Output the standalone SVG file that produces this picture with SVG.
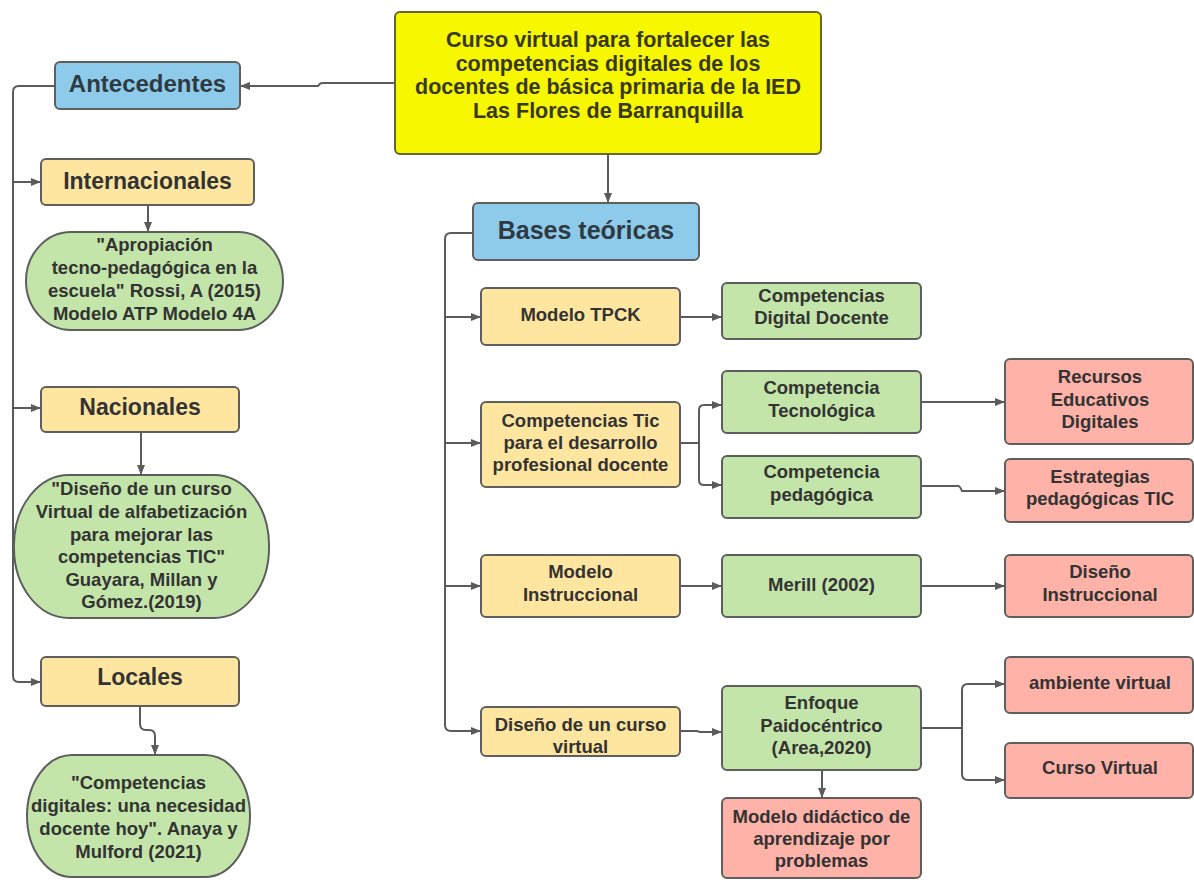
<svg xmlns="http://www.w3.org/2000/svg" width="1194" height="880" viewBox="0 0 1194 880">
  <defs>
    <marker id="arrow" viewBox="0 0 10 8" refX="10" refY="4" markerWidth="10" markerHeight="8" markerUnits="userSpaceOnUse" orient="auto">
      <path d="M0,0 L10,4 L0,8 z" fill="#5b5b5b"/>
    </marker>
    <style>
      text { font-family: "Liberation Sans", Arial, sans-serif; font-weight: bold; fill: #333333; text-anchor: middle; }
      .title { font-size: 21.5px; fill: #38381c; }
      .head { font-size: 24px; fill: #2f3a42; }
      .sub { font-size: 23px; }
      .lbl { font-size: 18.5px; }
      .box { stroke: #5e5e5e; stroke-width: 2; }
      .root { fill: #f7f700; stroke: #66662a; stroke-width: 2; }
      .blue { fill: #8ecbea; }
      .yellow { fill: #ffe6a0; }
      .green { fill: #c4e5aa; }
      .pink { fill: #ffb2a8; }
      .link { fill: none; stroke: #5b5b5b; stroke-width: 2; }
      .arr { marker-end: url(#arrow); }
    </style>
  </defs>

  <rect width="1194" height="880" fill="#ffffff"/>

  <!-- connectors -->
  <g id="connectors">
    <path class="link arr" d="M395,83 H322 Q320,83 318,86 H240"/>
    <path class="link arr" d="M608,154 V203"/>
    <!-- antecedentes spine -->
    <path class="link arr" d="M55,86 H19 Q13,86 13,92 V676 Q13,682 19,682 H41"/>
    <path class="link arr" d="M13,182 H41"/>
    <path class="link arr" d="M13,408 H41"/>
    <path class="link arr" d="M148,205 V232"/>
    <path class="link arr" d="M141,432 V475"/>
    <path class="link arr" d="M140,706 V724 Q140,730 146,730 H149 Q155,730 155,736 V755"/>
    <!-- bases teóricas spine -->
    <path class="link arr" d="M473,233 H451 Q445,233 445,239 V725 Q445,731 451,731 H481"/>
    <path class="link arr" d="M445,317 H481"/>
    <path class="link arr" d="M445,443 H481"/>
    <path class="link arr" d="M445,586 H481"/>
    <path class="link arr" d="M680,317 H722"/>
    <!-- split to the two competences -->
    <path class="link" d="M680,443 H699"/>
    <path class="link arr" d="M699,443 V410 Q699,405 704,405 H722"/>
    <path class="link arr" d="M699,443 V480 Q699,485 704,485 H722"/>
    <path class="link arr" d="M921,402 H1005"/>
    <path class="link arr" d="M921,486 H958 Q960,486 962,491 H1005"/>
    <path class="link arr" d="M680,586 H722"/>
    <path class="link arr" d="M921,586 H1005"/>
    <path class="link arr" d="M680,731 H697 L700,732 H722"/>
    <path class="link arr" d="M822,770 V798"/>
    <!-- split to the two outputs -->
    <path class="link" d="M921,728 H962"/>
    <path class="link arr" d="M962,728 V690 Q962,684 968,684 H1005"/>
    <path class="link arr" d="M962,728 V774 Q962,780 968,780 H1005"/>
  </g>

  <g id="root">
    <rect class="root" x="395" y="12" width="426" height="142" rx="5"/>
    <text class="title" x="608" y="47">Curso virtual para fortalecer las</text>
    <text class="title" x="608" y="70.5">competencias digitales de los</text>
    <text class="title" x="608" y="94">docentes de básica primaria de la IED</text>
    <text class="title" x="608" y="117.5">Las Flores de Barranquilla</text>
  </g>

  <g id="antecedentes">
    <rect class="box blue" x="55" y="62" width="185" height="47" rx="5"/>
    <text class="head" x="147.5" y="92">Antecedentes</text>
  </g>

  <g id="internacionales">
    <rect class="box yellow" x="41" y="159" width="213" height="46" rx="5"/>
    <text class="sub" x="147.5" y="189">Internacionales</text>
  </g>

  <g id="rossi">
    <rect class="box green" x="26" y="232" width="257" height="98" rx="45" ry="49"/>
    <text class="lbl" x="154.5" y="251">"Apropiación</text>
    <text class="lbl" x="154.5" y="274">tecno-pedagógica en la</text>
    <text class="lbl" x="154.5" y="297">escuela" Rossi, A (2015)</text>
    <text class="lbl" x="154.5" y="320">Modelo ATP Modelo 4A</text>
  </g>

  <g id="nacionales">
    <rect class="box yellow" x="41" y="387" width="198" height="45" rx="5"/>
    <text class="sub" x="140" y="415">Nacionales</text>
  </g>

  <g id="guayara">
    <rect class="box green" x="14" y="475" width="255" height="143" rx="55" ry="70"/>
    <text class="lbl" x="141.5" y="495">"Diseño de un curso</text>
    <text class="lbl" x="141.5" y="518">Virtual de alfabetización</text>
    <text class="lbl" x="141.5" y="541">para mejorar las</text>
    <text class="lbl" x="141.5" y="563">competencias TIC"</text>
    <text class="lbl" x="141.5" y="586">Guayara, Millan y</text>
    <text class="lbl" x="141.5" y="608">Gómez.(2019)</text>
  </g>

  <g id="locales">
    <rect class="box yellow" x="41" y="657" width="198" height="49" rx="5"/>
    <text class="sub" x="140" y="685">Locales</text>
  </g>

  <g id="anaya">
    <rect class="box green" x="27" y="755" width="223" height="122" rx="45" ry="61"/>
    <text class="lbl" x="138.5" y="789">"Competencias</text>
    <text class="lbl" x="138.5" y="812">digitales: una necesidad</text>
    <text class="lbl" x="138.5" y="835">docente hoy". Anaya y</text>
    <text class="lbl" x="138.5" y="858">Mulford (2021)</text>
  </g>

  <g id="bases">
    <rect class="box blue" x="473" y="203" width="226" height="57" rx="5"/>
    <text class="head" x="586" y="239" style="font-size:25px">Bases teóricas</text>
  </g>

  <g id="tpck">
    <rect class="box yellow" x="481" y="288" width="199" height="57" rx="5"/>
    <text class="lbl" x="580.5" y="321">Modelo TPCK</text>
  </g>

  <g id="digital-docente">
    <rect class="box green" x="722" y="283" width="199" height="56" rx="5"/>
    <text class="lbl" x="821.5" y="302">Competencias</text>
    <text class="lbl" x="821.5" y="324">Digital Docente</text>
  </g>

  <g id="tic">
    <rect class="box yellow" x="481" y="402" width="199" height="85" rx="5"/>
    <text class="lbl" x="580.5" y="427">Competencias Tic</text>
    <text class="lbl" x="580.5" y="449">para el desarrollo</text>
    <text class="lbl" x="580.5" y="471">profesional docente</text>
  </g>

  <g id="tecnologica">
    <rect class="box green" x="722" y="371" width="199" height="62" rx="5"/>
    <text class="lbl" x="821.5" y="394">Competencia</text>
    <text class="lbl" x="821.5" y="417">Tecnológica</text>
  </g>

  <g id="pedagogica">
    <rect class="box green" x="722" y="456" width="199" height="62" rx="5"/>
    <text class="lbl" x="821.5" y="478">Competencia</text>
    <text class="lbl" x="821.5" y="501">pedagógica</text>
  </g>

  <g id="recursos">
    <rect class="box pink" x="1005" y="359" width="188" height="85" rx="5"/>
    <text class="lbl" x="1100" y="383">Recursos</text>
    <text class="lbl" x="1100" y="406">Educativos</text>
    <text class="lbl" x="1100" y="428">Digitales</text>
  </g>

  <g id="estrategias">
    <rect class="box pink" x="1005" y="459" width="188" height="63" rx="5"/>
    <text class="lbl" x="1100" y="483">Estrategias</text>
    <text class="lbl" x="1100" y="505">pedagógicas TIC</text>
  </g>

  <g id="instruccional">
    <rect class="box yellow" x="481" y="555" width="199" height="62" rx="5"/>
    <text class="lbl" x="580.5" y="578">Modelo</text>
    <text class="lbl" x="580.5" y="601">Instruccional</text>
  </g>

  <g id="merill">
    <rect class="box green" x="722" y="555" width="199" height="62" rx="5"/>
    <text class="lbl" x="821.5" y="591">Merill (2002)</text>
  </g>

  <g id="diseno-instruccional">
    <rect class="box pink" x="1005" y="555" width="188" height="62" rx="5"/>
    <text class="lbl" x="1100" y="578">Diseño</text>
    <text class="lbl" x="1100" y="601">Instruccional</text>
  </g>

  <g id="curso-virtual-design">
    <rect class="box yellow" x="481" y="707" width="199" height="49" rx="5"/>
    <text class="lbl" x="580.5" y="731">Diseño de un curso</text>
    <text class="lbl" x="580.5" y="753">virtual</text>
  </g>

  <g id="enfoque">
    <rect class="box green" x="722" y="686" width="199" height="84" rx="5"/>
    <text class="lbl" x="821.5" y="709">Enfoque</text>
    <text class="lbl" x="821.5" y="732">Paidocéntrico</text>
    <text class="lbl" x="821.5" y="754">(Area,2020)</text>
  </g>

  <g id="didactico">
    <rect class="box pink" x="722" y="798" width="199" height="80" rx="5"/>
    <text class="lbl" x="821.5" y="823">Modelo didáctico de</text>
    <text class="lbl" x="821.5" y="845">aprendizaje por</text>
    <text class="lbl" x="821.5" y="867">problemas</text>
  </g>

  <g id="ambiente">
    <rect class="box pink" x="1005" y="657" width="188" height="56" rx="5"/>
    <text class="lbl" x="1100" y="689">ambiente virtual</text>
  </g>

  <g id="curso-virtual">
    <rect class="box pink" x="1005" y="743" width="188" height="55" rx="5"/>
    <text class="lbl" x="1100" y="774">Curso Virtual</text>
  </g>
</svg>
